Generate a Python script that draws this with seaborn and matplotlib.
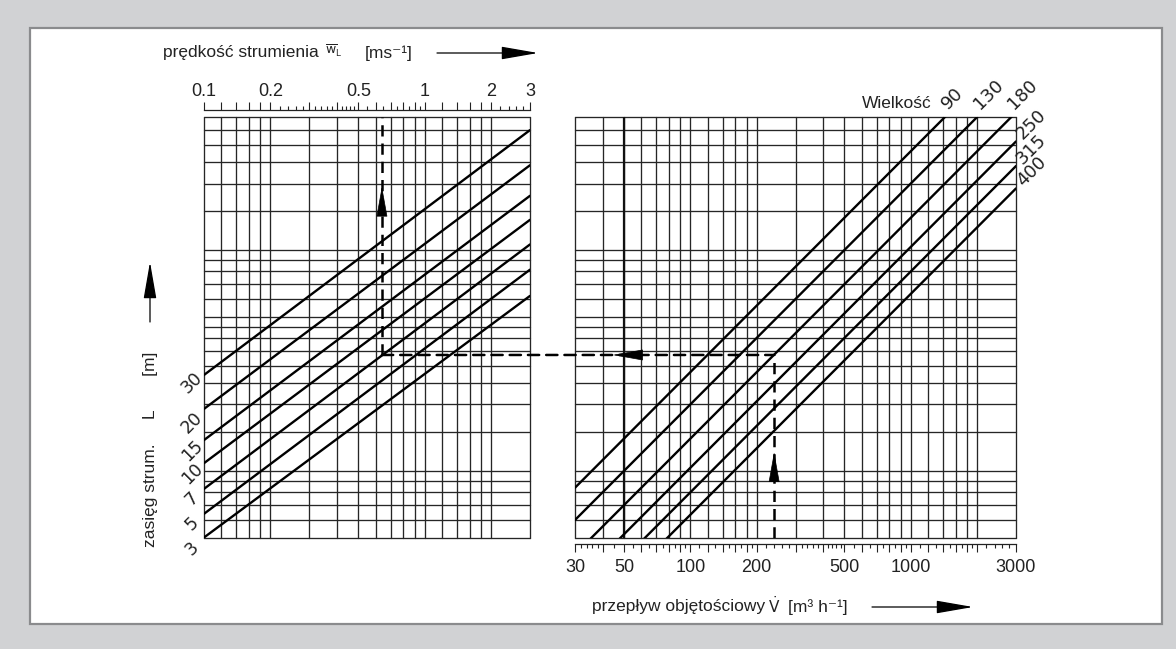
import numpy as np
import pandas as pd
import matplotlib
matplotlib.use("Agg")
import matplotlib.pyplot as plt
from matplotlib.patches import Rectangle, ConnectionPatch, FancyArrowPatch
from matplotlib.ticker import FixedLocator, FuncFormatter, NullLocator
import seaborn as sns

# ---- left panel: jet velocity w [m/s] -> throw L [m]
w_grid = [0.1, 0.12, 0.14, 0.16, 0.18, 0.2, 0.3, 0.4, 0.5, 0.6, 0.7, 0.8, 0.9,
          1, 1.2, 1.4, 1.6, 1.8, 2, 3]
w_minor = [0.22, 0.24, 0.26, 0.28, 0.32, 0.34, 0.36, 0.38, 0.42, 0.44, 0.46, 0.48,
           0.55, 0.65, 0.75, 0.85, 0.95, 2.2, 2.4, 2.6, 2.8]
w_labels = [0.1, 0.2, 0.5, 1, 2, 3]

L_grid = [0.5, 0.6, 0.7, 0.8, 0.9, 1, 1.5, 2, 2.5, 3, 3.5, 4, 4.5, 5, 6, 7, 8, 9,
          10, 15, 20, 25, 30, 35, 40]
# y labels as printed on the chart (axes fraction)
L_tick_text = ["3", "5", "7", "10", "15", "20", "30"]
L_tick_pos = [-0.026, 0.033, 0.093, 0.152, 0.207, 0.274, 0.367]

w_ends = [0.1, 3]
left_L_start = [2.72, 1.91, 1.38, 1.085, 0.83, 0.64, 0.50]
left_L_end = [34.9, 24.2, 17.6, 13.7, 10.6, 8.15, 6.2]

# ---- right panel: volume flow V [m3/h] -> throw L [m]
V_grid = [30, 40, 50, 60, 70, 80, 90, 100, 120, 140, 160, 180, 200, 300, 400, 500,
          600, 700, 800, 900, 1000, 1200, 1400, 1600, 1800, 2000, 3000]
V_minor = [32, 34, 36, 38, 45, 55, 65, 75, 85, 95, 110, 130, 150, 170, 190,
           220, 240, 260, 280, 320, 340, 360, 380, 420, 440, 460, 480,
           550, 650, 750, 850, 950, 1100, 1300, 1500, 1700, 1900,
           2200, 2400, 2600, 2800]
V_labels = [30, 50, 100, 200, 500, 1000, 3000]

sizes = ["90", "130", "180", "250", "315", "400"]
V_ends = [30, 3000]
right_L_start = [0.84, 0.60, 0.42, 0.31, 0.24, 0.19]
right_L_end = [84, 60, 42, 31, 24, 19]

# ---- worked example (dashed path)
ex_w = 0.64
ex_L = 3.35
ex_V = 240
arrow1_L = (14.5, 19.4)   # base, tip
arrow2_V = (61, 44.5)
arrow3_L = (0.96, 1.22)

W, H = 1176, 649
def fx(p):
    return p / W
def fy(p):
    return 1 - p / H

sns.set_theme(style="white")
plt.rcParams["font.family"] = ["Liberation Sans", "DejaVu Sans"]
lab_font = ["Liberation Sans", "DejaVu Sans"]
num_font = ["DejaVu Sans"]

fig = plt.figure(figsize=(W / 100, H / 100), dpi=100)
fig.patch.set_facecolor("#d1d2d4")
fig.patches.append(Rectangle((fx(30), fy(624)), fx(1162 - 30), (624 - 28) / H,
                             transform=fig.transFigure, facecolor="white",
                             edgecolor="#8a8b8d", lw=1.6, zorder=-1))

ax1 = fig.add_axes([fx(204), fy(537.5), (530 - 204) / W, (537.5 - 117) / H])
ax2 = fig.add_axes([fx(575), fy(537.5), (1016 - 575) / W, (537.5 - 117) / H])

gc = "#262626"
glw = 0.95

def setup(ax, xgrid, xmin, xlo, xhi, labels, pad):
    ax.set_xscale("log")
    ax.set_yscale("log")
    ax.set_xlim(xlo, xhi)
    ax.set_ylim(0.5, 40)
    ax.set_facecolor("none")
    for v in xgrid:
        ax.axvline(v, color=gc, lw=glw, clip_on=False, zorder=1)
    for v in L_grid:
        ax.axhline(v, color=gc, lw=glw, clip_on=False, zorder=1)
    ax.xaxis.set_major_locator(FixedLocator(xgrid))
    ax.xaxis.set_minor_locator(FixedLocator(xmin))
    ax.xaxis.set_major_formatter(FuncFormatter(
        lambda v, p: f"{v:g}" if np.any(np.isclose(v, labels)) else ""))
    ax.xaxis.set_minor_formatter(FuncFormatter(lambda v, p: ""))
    ax.yaxis.set_major_locator(NullLocator())
    ax.yaxis.set_minor_locator(NullLocator())
    for s in ax.spines.values():
        s.set_visible(False)
    ax.grid(False)
    ax.tick_params(axis="x", which="major", length=6, width=0.8, color="#222",
                   direction="out", labelsize=13, labelcolor="#222", pad=pad)
    ax.tick_params(axis="x", which="minor", length=3.2, width=0.8, color="#222",
                   direction="out")
    for t in ax.get_xticklabels():
        t.set_family(num_font)

setup(ax1, w_grid, w_minor, 0.1, 3, w_labels, 1.5)
ax1.xaxis.tick_top()
ax1.spines["top"].set_visible(True)
ax1.spines["top"].set_position(("outward", 4.7))
ax1.spines["top"].set_color("#222")
ax1.spines["top"].set_linewidth(0.9)

setup(ax2, V_grid, V_minor, 30, 3000, V_labels, 4.5)
ax2.xaxis.tick_bottom()
ax2.spines["bottom"].set_visible(True)
ax2.spines["bottom"].set_position(("outward", 4.7))
ax2.spines["bottom"].set_color("#222")
ax2.spines["bottom"].set_linewidth(0.9)
ax2.axvline(50, color="#111", lw=1.6, zorder=1)

# diagonal lines
for s, e in zip(left_L_start, left_L_end):
    sns.lineplot(x=w_ends, y=[s, e], ax=ax1, color="black", lw=1.7, zorder=3)
for s, e in zip(right_L_start, right_L_end):
    sns.lineplot(x=V_ends, y=[s, e], ax=ax2, color="black", lw=1.7, zorder=3)
ax1.set_xlim(0.1, 3)
ax2.set_xlim(30, 3000)
ax1.set_ylim(0.5, 40)
ax2.set_ylim(0.5, 40)
for ax in (ax1, ax2):
    ax.set_xlabel("")
    ax.set_ylabel("")

# size labels at the line ends
for name, s, e in zip(sizes, right_L_start, right_L_end):
    lv = np.log10(V_ends)
    if e > 40:
        vx = 10 ** np.interp(np.log10(40), np.log10([s, e]), lv)
        ly = 40
        off = (4, 3)
    else:
        vx, ly = 3000, e
        off = (7, -1)
    ax2.annotate(name, xy=(vx, ly), xytext=off, textcoords="offset points",
                 rotation=45, rotation_mode="anchor", ha="left", va="bottom",
                 fontsize=13, family=num_font, color="#222", annotation_clip=False)

# y labels printed left of the left panel
for t, p in zip(L_tick_text, L_tick_pos):
    ax1.text(-0.037, p, t, transform=ax1.transAxes, rotation=45, ha="center",
             va="center", fontsize=12.5, family=num_font, color="#222")

# worked example
dash = (0, (4.5, 2.8))
ax1.plot([ex_w, ex_w], [ex_L, 40], color="black", lw=1.8, ls=dash, zorder=4)
ax2.plot([ex_V, ex_V], [0.5, ex_L], color="black", lw=1.8, ls=dash, zorder=4)
con = ConnectionPatch(xyA=(ex_w, ex_L), coordsA=ax1.transData,
                      xyB=(ex_V, ex_L), coordsB=ax2.transData,
                      color="black", lw=1.8, linestyle=dash, zorder=4)
fig.add_artist(con)
head = "-|>,head_length=1.0,head_width=0.18"
ap = dict(arrowstyle=head, mutation_scale=20, color="black", lw=0.5,
          shrinkA=0, shrinkB=0)
ax1.annotate("", xy=(ex_w, arrow1_L[1]), xytext=(ex_w, arrow1_L[0]), arrowprops=ap)
ax2.annotate("", xy=(arrow2_V[1], ex_L), xytext=(arrow2_V[0], ex_L), arrowprops=ap)
ax2.annotate("", xy=(ex_V, arrow3_L[1]), xytext=(ex_V, arrow3_L[0]), arrowprops=ap)

# axis titles
tk = dict(fontsize=12.5, family=lab_font, color="#222")
fig.text(fx(163), fy(53), "prędkość strumienia", ha="left", va="center", **tk)
fig.text(fx(325), fy(51), r"$\overline{\mathrm{w}}_{\mathrm{L}}$", ha="left",
         va="center", fontsize=9, color="#222")
fig.text(fx(365), fy(53), "[ms⁻¹]", ha="left", va="center", **tk)
fig.text(fx(592), fy(607), "przepływ objętościowy", ha="left", va="center", **tk)
fig.text(fx(768), fy(606), r"$\dot{\mathrm{V}}$", ha="left", va="center",
         fontsize=11, color="#222")
fig.text(fx(788), fy(607), "[m³ h⁻¹]", ha="left", va="center", **tk)
fig.text(fx(150), fy(547), "zasięg strum.     L       [m]", rotation=90,
         ha="center", va="bottom", **tk)
fig.text(fx(862), fy(103), "Wielkość", ha="left", va="center", **tk)

astyle = "-|>,head_length=1.15,head_width=0.2"
for a, b in [((437, 53), (538, 53)), ((872, 607), (973, 607)),
             ((150, 322), (150, 262))]:
    fig.add_artist(FancyArrowPatch((fx(a[0]), fy(a[1])), (fx(b[0]), fy(b[1])),
                                   transform=fig.transFigure, arrowstyle=astyle,
                                   mutation_scale=20, color="black", lw=0.9,
                                   shrinkA=0, shrinkB=0))

fig.savefig("out.png", dpi=100, facecolor=fig.get_facecolor())
